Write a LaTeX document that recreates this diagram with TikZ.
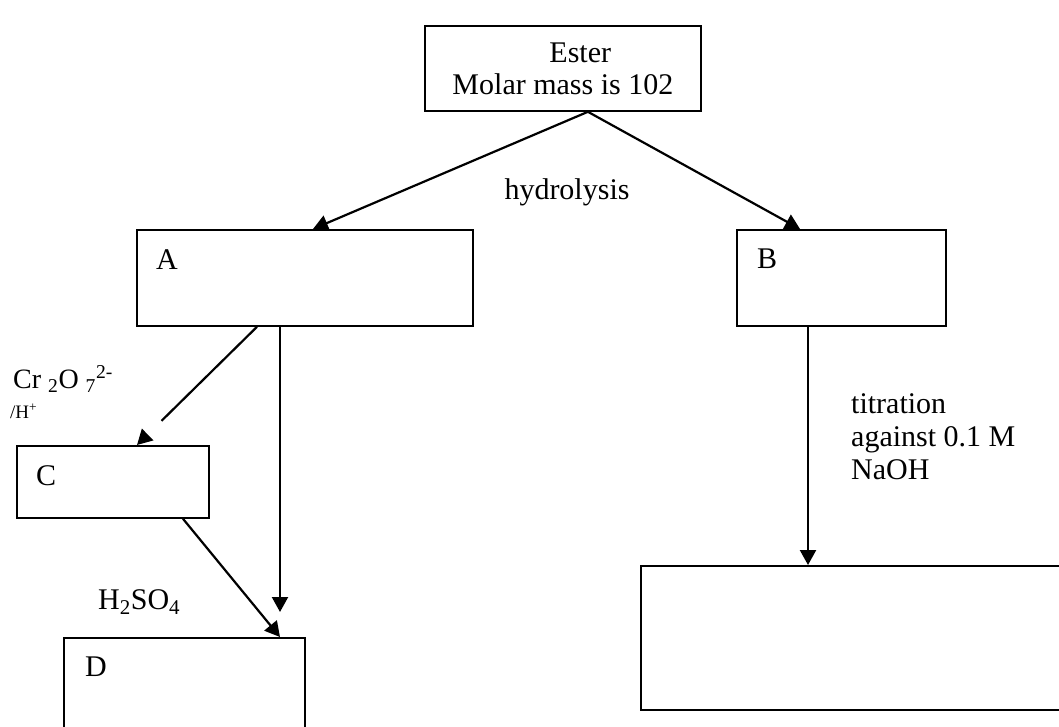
\documentclass[tikz,border=0pt]{standalone}
\usepackage{fontspec}
\setmainfont{Liberation Serif}
\usetikzlibrary{arrows.meta,positioning}
\tikzset{
  box/.style={draw,line width=1.8pt,inner sep=0pt,anchor=north west},
  tag/.style={inner sep=0pt,font=\fontsize{30}{33}\selectfont},
  arr/.style={line width=2.2pt,-{Triangle[length=15pt,width=16pt]}}
}
\begin{document}
\begin{tikzpicture}[x=1pt,y=-1pt]
\useasboundingbox (0,0) rectangle (1059,727);
\clip (0,0) rectangle (1059,727);

% boxes
\node[box,minimum width=276pt,minimum height=85pt,align=left,font=\fontsize{30}{32}\selectfont] (ester) at (424,25) {\hspace*{97pt}Ester\\Molar mass is 102};
\node[box,minimum width=336pt,minimum height=96pt] (a) at (136,229) {};
\node[box,minimum width=209pt,minimum height=96pt] (b) at (736,229) {};
\node[box,minimum width=192pt,minimum height=72pt] (c) at (16,445) {};
\node[box,minimum width=241pt,minimum height=130pt] (d) at (63,637) {};
\node[box,minimum width=500pt,minimum height=144pt] (e) at (640,565) {};

\node[tag,below right=20pt and 20pt of a.north west] (la) {A};
\node[tag,below right=20pt and 21pt of b.north west] (lb) {B};
\node[tag,below right=20pt and 20pt of c.north west] (lc) {C};
\node[tag,below right=20pt and 22pt of d.north west] (ld) {D};

% reagents
\node[tag] (hyd) at (567,192) {hydrolysis};
\node[tag,anchor=north west,align=left] (titr) at (851,393) {titration\\against 0.1 M\\NaOH};
\node[tag,anchor=base west,font=\fontsize{28}{30}\selectfont] (cr) at (13,388) {Cr \textsubscript{2}O \textsubscript{7}\textsuperscript{2-}};
\node[tag,anchor=base west,font=\fontsize{19}{21}\selectfont] (hplus) at (10,418) {/H\textsuperscript{+}};
\node[tag,anchor=base west] (acid) at (98,609) {H\textsubscript{2}SO\textsubscript{4}};

% arrows
\draw[arr] ([xshift=25pt]ester.south) -- ([xshift=177pt]a.north west);
\draw[arr] ([xshift=25pt]ester.south) -- ([xshift=64pt]b.north west);
\draw[arr,dash pattern=on 134pt off 200pt] ([xshift=121pt]a.south west) -- ([xshift=121pt]c.north west);
\coordinate (adtip) at (280,612);
\draw[arr] (adtip |- a.south) -- (adtip);
\draw[arr] ([xshift=167pt]c.south west) -- ([xshift=217pt]d.north west);
\draw[arr] ([xshift=72pt]b.south west) -- ([xshift=168pt]e.north west);
\end{tikzpicture}
\end{document}
